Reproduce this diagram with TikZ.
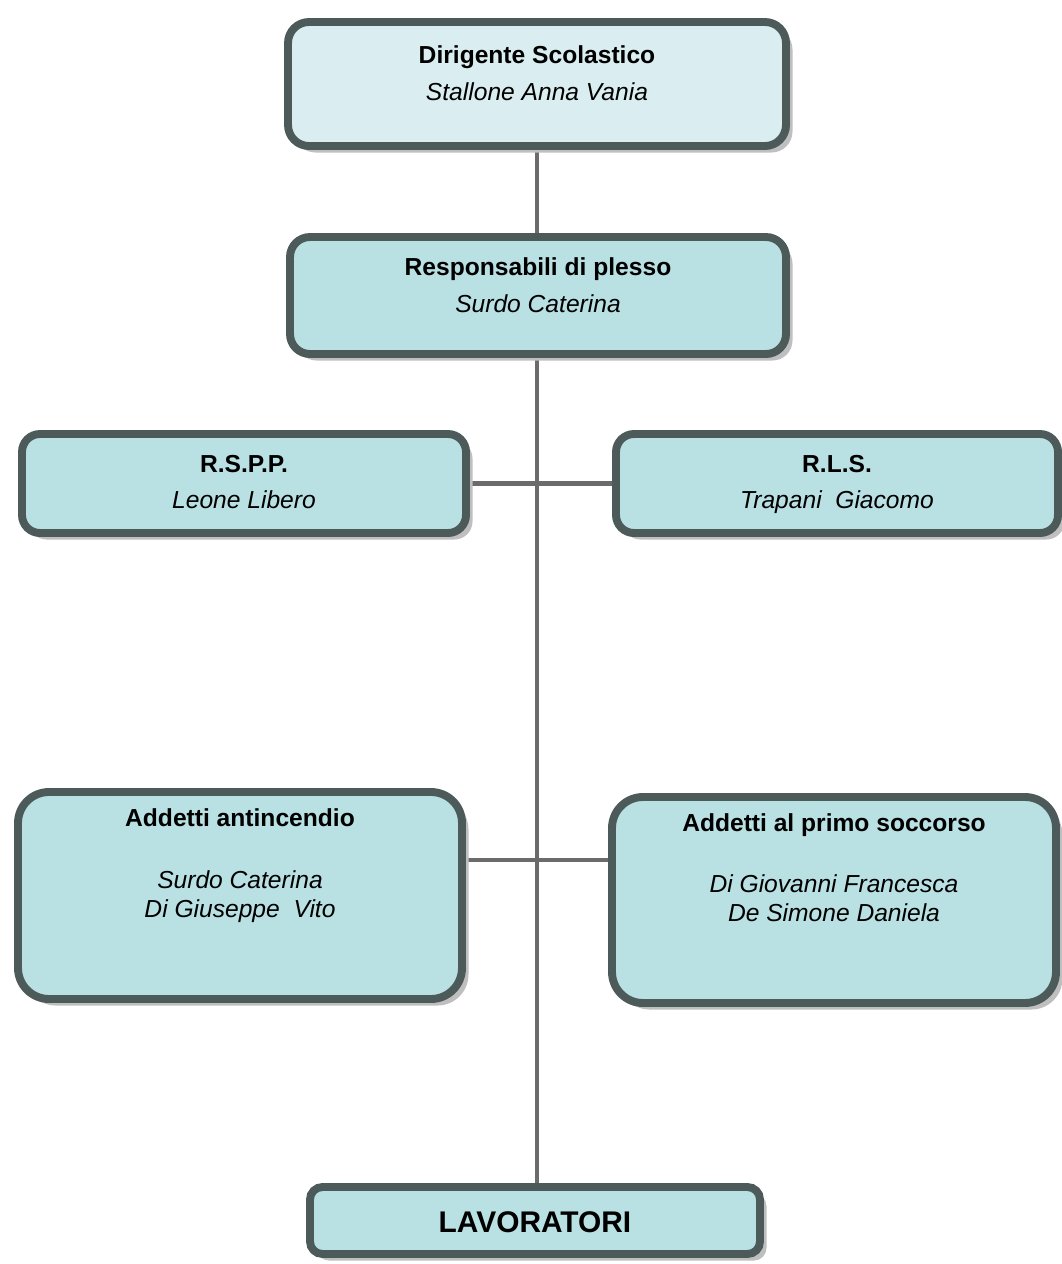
\documentclass[tikz,border=0pt]{standalone}
\usepackage{fontspec}
\setmainfont{Liberation Sans}
\usetikzlibrary{shadows,backgrounds,calc}
\definecolor{boxline}{HTML}{4D5A5A}
\definecolor{boxfill}{HTML}{B9E0E3}
\definecolor{topfill}{HTML}{DAEEF1}
\definecolor{wire}{HTML}{6B6B6B}
\tikzstyle{unit}=[draw=boxline,line width=4.5pt,fill=boxfill,inner sep=0pt,
  drop shadow={shadow xshift=0.13cm,shadow yshift=-0.13cm,fill=black!25,opacity=1}]
\tikzstyle{role}=[font=\fontsize{14}{17}\selectfont\bfseries,anchor=base]
\tikzstyle{person}=[font=\fontsize{14}{17}\selectfont\itshape,anchor=base]
\tikzstyle{link}=[draw=wire,line width=2.8pt]

\begin{document}
\begin{tikzpicture}
\useasboundingbox (0,0) rectangle (21.24,-25.28);

% boxes
\node[unit,fill=topfill,rounded corners=0.42cm,minimum width=9.96cm,minimum height=2.48cm] (dir) at (10.74,-1.68) {};
\node[role] (dirT) at (10.74,-1.26) {Dirigente Scolastico};
\node[person] (dirN) at (10.74,-2.00) {Stallone Anna Vania};

\node[unit,rounded corners=0.4cm,minimum width=9.92cm,minimum height=2.34cm] (resp) at (10.76,-5.91) {};
\node[role] (respT) at (10.76,-5.50) {Responsabili di plesso};
\node[person] (respN) at (10.76,-6.24) {Surdo Caterina};

\node[unit,rounded corners=0.36cm,minimum width=8.88cm,minimum height=1.98cm] (rspp) at (4.88,-9.67) {};
\node[role] (rsppT) at (4.88,-9.44) {R.S.P.P.};
\node[person] (rsppN) at (4.88,-10.16) {Leone Libero};

\node[unit,rounded corners=0.36cm,minimum width=8.84cm,minimum height=1.98cm] (rls) at (16.74,-9.67) {};
\node[role] (rlsT) at (16.74,-9.44) {R.L.S.};
\node[person] (rlsN) at (16.74,-10.16) {Trapani\ \ Giacomo};

\node[unit,rounded corners=0.62cm,minimum width=8.88cm,minimum height=4.14cm] (anti) at (4.80,-17.91) {};
\node[role] (antiT) at (4.80,-16.52) {Addetti antincendio};
\node[person] (antiN) at (4.80,-17.76) {Surdo Caterina};
\node[person] (antiM) at (4.80,-18.34) {Di Giuseppe\ \ Vito};

\node[unit,rounded corners=0.62cm,minimum width=8.88cm,minimum height=4.12cm] (socc) at (16.68,-18.00) {};
\node[role] (soccT) at (16.68,-16.62) {Addetti al primo soccorso};
\node[person] (soccN) at (16.68,-17.84) {Di Giovanni Francesca};
\node[person] (soccM) at (16.68,-18.42) {De Simone Daniela};

\node[unit,rounded corners=0.25cm,minimum width=9.0cm,minimum height=1.34cm] (lav) at (10.70,-24.41) {};
\node[font=\fontsize{17}{20}\selectfont\bfseries,anchor=base] (lavT) at (10.70,-24.64) {LAVORATORI};

% connectors
\coordinate (hb) at (10.74,-17.20);
\begin{scope}[on background layer]
\draw[link] (dir.south) -- (dir.south |- resp.north);
\draw[link] (dir.south |- resp.south) -- (dir.south |- lav.north);
\draw[link] (rspp.east) -- (rls.west);
\draw[link] (anti.east |- hb) -- (socc.west |- hb);
\end{scope}
\end{tikzpicture}
\end{document}
